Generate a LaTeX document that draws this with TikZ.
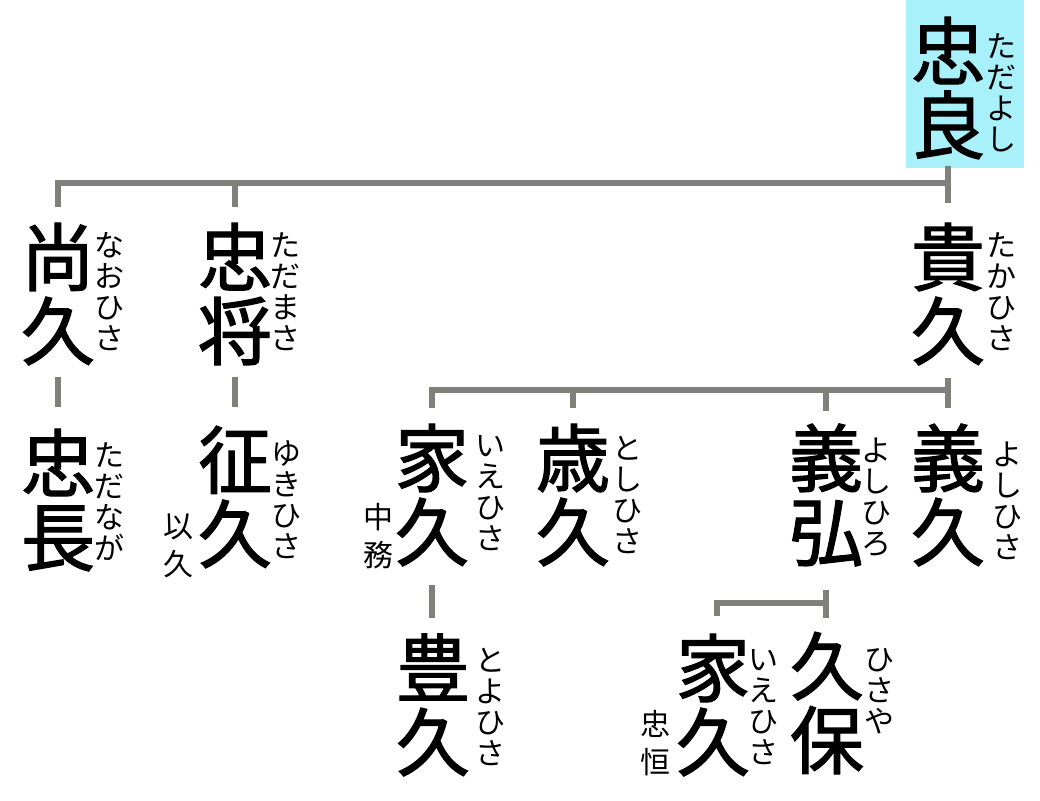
\documentclass[tikz,border=0pt]{standalone}
\usepackage{fontspec}
\newfontfamily\jp{Noto Sans CJK JP}
\newfontfamily\jpmed[FakeBold=1.6]{Noto Sans CJK JP}
\definecolor{linegray}{RGB}{128,128,122}
\definecolor{boxcyan}{RGB}{168,240,250}
\tikzset{
  big/.style={font=\jpmed\fontsize{74}{74}\selectfont, align=center, inner sep=0pt},
  furi/.style={font=\jp\fontsize{30}{31}\selectfont, align=center, inner sep=0pt},
  sidenote/.style={font=\jp\fontsize{30}{38}\selectfont, align=center, inner sep=0pt},
  link/.style={draw=linegray, line width=6pt},
}
\begin{document}
\begin{tikzpicture}[x=1pt,y=-1pt]
\useasboundingbox (0,0) rectangle (1040,800);
\fill[white] (0,0) rectangle (1040,800);
% root box
\node[fill=boxcyan, minimum width=118pt, minimum height=168pt, inner sep=0pt, anchor=north west] (topbox) at (906,0) {};
\node[big] (tadayoshi) at (948,88) {忠\\良};
\node[furi] (tadayoshiF) at (1001,93) {た\\だ\\よ\\し};
% row 1
\node[big] (naohisa) at (58,294) {尚\\久};
\node[furi] (naohisaF) at (109,292) {な\\お\\ひ\\さ};
\node[big] (tadamasa) at (235,294) {忠\\将};
\node[furi] (tadamasaF) at (285,292) {た\\だ\\ま\\さ};
\node[big] (takahisa) at (948,294) {貴\\久};
\node[furi] (takahisaF) at (1001,292) {た\\か\\ひ\\さ};
% row 2
\node[big] (tadanaga) at (58,500) {忠\\長};
\node[furi] (tadanagaF) at (109,502) {た\\だ\\な\\が};
\node[big] (yukihisa) at (235,497) {征\\久};
\node[furi] (yukihisaF) at (286,500) {ゆ\\き\\ひ\\さ};
\node[sidenote] (mochihisa) at (178,546) {以\\久};
\node[big] (iehisa) at (432,495) {家\\久};
\node[furi] (iehisaF) at (490,493) {い\\え\\ひ\\さ};
\node[sidenote] (nakatsukasa) at (378,536) {中\\務};
\node[big] (toshihisa) at (573,495) {歳\\久};
\node[furi] (toshihisaF) at (627,495) {と\\し\\ひ\\さ};
\node[big] (yoshihiro) at (826,495) {義\\弘};
\node[furi] (yoshihiroF) at (876,497) {よ\\し\\ひ\\ろ};
\node[big] (yoshihisa) at (948,495) {義\\久};
\node[furi] (yoshihisaF) at (1007,501) {よ\\し\\ひ\\さ};
% row 3
\node[big] (toyohisa) at (433,705) {豊\\久};
\node[furi] (toyohisaF) at (490,707) {と\\よ\\ひ\\さ};
\node[big] (iehisaB) at (713,705) {家\\久};
\node[furi] (iehisaBF) at (763,707) {い\\え\\ひ\\さ};
\node[sidenote] (tadatsune) at (655,743) {忠\\恒};
\node[big] (hisayasu) at (827,703) {久\\保};
\node[furi] (hisayasuF) at (879,691) {ひ\\さ\\や};
% junction coordinates
\coordinate (rootfoot) at (948,166);
\coordinate (jA) at (948,183);
\coordinate (jAl) at (58,183);
\coordinate (jAm) at (235,183);
\coordinate (tA1) at (58,207);
\coordinate (tA2) at (235,207);
\coordinate (tA3) at (948,203);
\coordinate (sN1) at (58,377);
\coordinate (sN2) at (58,407);
\coordinate (sT1) at (235,377);
\coordinate (sT2) at (235,407);
\coordinate (jB) at (948,390);
\coordinate (jBl) at (432,390);
\coordinate (jBa) at (573,390);
\coordinate (jBb) at (826,390);
\coordinate (tB0) at (948,378);
\coordinate (tB1) at (432,408);
\coordinate (tB2) at (573,408);
\coordinate (tB3) at (826,411);
\coordinate (tB4) at (948,408);
\coordinate (sI1) at (432,585);
\coordinate (sI2) at (432,618);
\coordinate (sY1) at (826,590);
\coordinate (sY2) at (826,618);
\coordinate (jC) at (826,603);
\coordinate (jCl) at (717,603);
\coordinate (tC1) at (717,616);
% connectors
\draw[link] (rootfoot) -- (tA3);
\draw[link] (tA1) -- (jAl) -- (jA);
\draw[link] (jAm) -- (tA2);
\draw[link] (sN1) -- (sN2);
\draw[link] (sT1) -- (sT2);
\draw[link] (tB0) -- (tB4);
\draw[link] (tB1) -- (jBl) -- (jB);
\draw[link] (jBa) -- (tB2);
\draw[link] (jBb) -- (tB3);
\draw[link] (sI1) -- (sI2);
\draw[link] (sY1) -- (sY2);
\draw[link] (tC1) -- (jCl) -- (jC);
\end{tikzpicture}
\end{document}
